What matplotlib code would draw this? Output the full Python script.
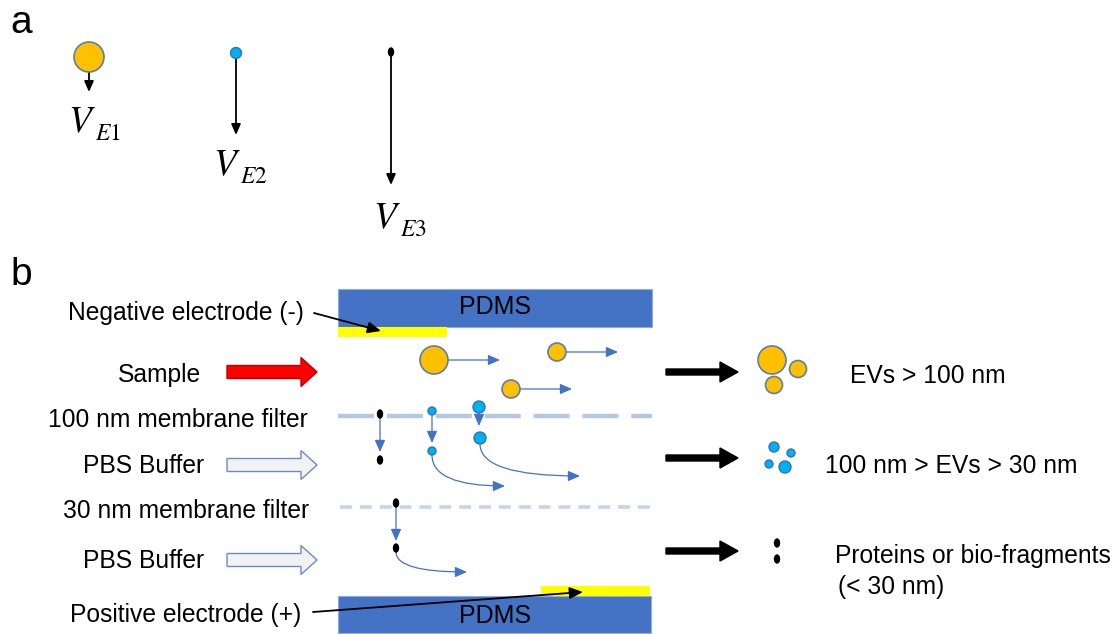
import matplotlib.pyplot as plt
from matplotlib.patches import Rectangle, Circle, Ellipse, FancyArrow, FancyArrowPatch
from matplotlib.path import Path

plt.rcParams["font.family"] = ["Liberation Sans", "DejaVu Sans"]
plt.rcParams["mathtext.fontset"] = "stix"

BLUE = "#4472C4"
ORANGE = "#FFC000"
CYAN = "#00B0F0"
EDGE = "#5B7FA8"

# panel a: particle -> velocity arrow length
a_kind = ["orange", "cyan", "black"]
a_x = [89, 236, 391]
a_y = [57, 53, 52]
a_r = [15, 5.5, 0]
a_tip = [92, 135, 185]
a_subs = ["E1", "E2", "E3"]
a_label_xy = [(68, 132), (213, 175), (373, 228)]

# panel b: side labels
side_labels = ["Negative electrode (-)", "Sample", "100 nm membrane filter",
               "PBS Buffer", "30 nm membrane filter", "PBS Buffer",
               "Positive electrode (+)"]
side_x = [68, 118, 48, 83, 63, 83, 70]
side_y = [320, 382, 427, 473, 518, 568, 622]

# inlet arrows (sample, buffer, buffer)
inlet_y = [372, 465, 560]
inlet_face = ["#FF0000", "#F2F2F2", "#F2F2F2"]
inlet_edge = ["#C00000", "#6A8CC7", "#6A8CC7"]

# large EVs in the top stream: (x, y, r, arrow end x)
big_evs = [(434, 360, 14, 500), (557, 352, 9, 618), (511, 389, 9, 572)]

# outlets
out_y = [372, 458, 551]
out_text = ["EVs > 100 nm", "100 nm > EVs > 30 nm", "Proteins or bio-fragments"]
out_text_x = [850, 825, 835]
out_text_y = [383, 473, 563]
orange_cluster = [(772, 360, 14), (798, 369, 8.5), (774, 385, 8.5)]
cyan_cluster = [(774, 447, 5), (791, 453, 4), (769, 464, 4), (785, 467, 6)]
black_cluster = [(777, 543), (777, 559)]

FS = 17.7

fig = plt.figure(figsize=(11.14, 6.34), dpi=100)
ax = fig.add_axes([0, 0, 1, 1])
ax.set_xlim(0, 1114)
ax.set_ylim(634, 0)
ax.axis("off")


def particle(x, y, kind, r=0):
    if kind == "orange":
        ax.add_patch(Circle((x, y), r, fc=ORANGE, ec=EDGE, lw=1.2, zorder=4))
    elif kind == "cyan":
        ax.add_patch(Circle((x, y), r, fc=CYAN, ec="#2E75B6", lw=1.0, zorder=4))
    else:
        ax.add_patch(Ellipse((x, y), 5, 8, fc="black", ec="black", zorder=4))


def thin_arrow(p0, p1, color=BLUE, lw=1.0, ms=9, curve=False):
    style = "-|>,head_length=0.8,head_width=0.35"
    if curve:
        path = Path([p0, (p0[0], p1[1]), p1], [Path.MOVETO, Path.CURVE3, Path.CURVE3])
        arr = FancyArrowPatch(path=path, arrowstyle=style, mutation_scale=ms,
                              color=color, lw=lw, zorder=3)
    else:
        arr = FancyArrowPatch(p0, p1, arrowstyle=style, mutation_scale=ms,
                              color=color, lw=lw, zorder=3, shrinkA=0, shrinkB=0)
    ax.add_patch(arr)


# ---- panel a ----
ax.text(10, 33, "a", fontsize=28, va="baseline")
for kind, x, y, r, tip, sub, (lx, ly) in zip(a_kind, a_x, a_y, a_r, a_tip, a_subs, a_label_xy):
    particle(x, y, kind, r)
    thin_arrow((x, y), (x, tip), color="black", lw=1.3, ms=8)
    ax.text(lx, ly, r"$V$", fontsize=27, va="baseline")
    ax.text(lx + 27, ly + 8, "$%s$" % sub, fontsize=17, va="baseline")

# ---- panel b ----
ax.text(10, 285, "b", fontsize=28, va="baseline")

# channel walls and electrodes
ax.add_patch(Rectangle((338, 289), 314, 38, fc=BLUE, ec="#8FAADC", lw=0.8))
ax.add_patch(Rectangle((338, 596), 313, 37, fc=BLUE, ec="#8FAADC", lw=0.8))
ax.add_patch(Rectangle((338, 327), 109, 10, fc="#FFFF00", ec="none"))
ax.add_patch(Rectangle((541, 586), 109, 10, fc="#FFFF00", ec="none"))
ax.text(495, 307, "PDMS", fontsize=18, ha="center", va="center")
ax.text(495, 616, "PDMS", fontsize=18, ha="center", va="center")

# membrane filters
ax.plot([338, 652], [416, 416], color="#B4C7E7", lw=3.2, dashes=(8.1, 2.9), zorder=2)
ax.plot([340, 650], [507, 507], color="#C5D4EE", lw=2.6, dashes=(3.3, 2.2), zorder=2)

for txt, x, y in zip(side_labels, side_x, side_y):
    ax.text(x, y, txt, fontsize=FS, ha="left", va="baseline")

# electrode pointers
thin_arrow((314, 313), (381, 331), color="black", lw=1.3, ms=10)
thin_arrow((313, 612), (583, 592), color="black", lw=1.3, ms=10)

# inlets
for y, fc, ec in zip(inlet_y, inlet_face, inlet_edge):
    ax.add_patch(FancyArrow(227, y, 90, 0, width=13, head_width=29, head_length=16,
                            length_includes_head=True, fc=fc, ec=ec, lw=1.0))

# large EVs carried by the flow
for x, y, r, x_end in big_evs:
    particle(x, y, "orange", r)
    thin_arrow((x + r, y), (x_end, y), lw=0.9)

# particles crossing the 100 nm filter
particle(380, 414, "black")
thin_arrow((380, 418), (380, 452), lw=0.9)
particle(380, 460, "black")

particle(432, 411, "cyan", 4)
thin_arrow((432, 415), (432, 443), lw=0.9)
particle(432, 451, "cyan", 4)
thin_arrow((432, 455), (505, 486), lw=0.9, curve=True)

particle(479, 407, "cyan", 6)
thin_arrow((479, 413), (479, 426), lw=0.9)
particle(480, 438, "cyan", 6)
thin_arrow((480, 444), (580, 476), lw=0.9, curve=True)

# fragment crossing the 30 nm filter
particle(396, 503, "black")
thin_arrow((396, 507), (396, 541), lw=0.9)
particle(396, 548, "black")
thin_arrow((396, 552), (467, 572), lw=0.9, curve=True)

# outlets
for y in out_y:
    ax.add_patch(FancyArrow(666, y, 72, 0, width=6, head_width=20, head_length=18,
                            length_includes_head=True, fc="black", ec="black"))
for x, y, r in orange_cluster:
    particle(x, y, "orange", r)
for x, y, r in cyan_cluster:
    particle(x, y, "cyan", r)
for x, y in black_cluster:
    particle(x, y, "black")

for txt, x, y in zip(out_text, out_text_x, out_text_y):
    ax.text(x, y, txt, fontsize=FS, ha="left", va="baseline")
ax.text(838, 594, "(< 30 nm)", fontsize=FS, ha="left", va="baseline")

fig.savefig("out.png", dpi=100)
